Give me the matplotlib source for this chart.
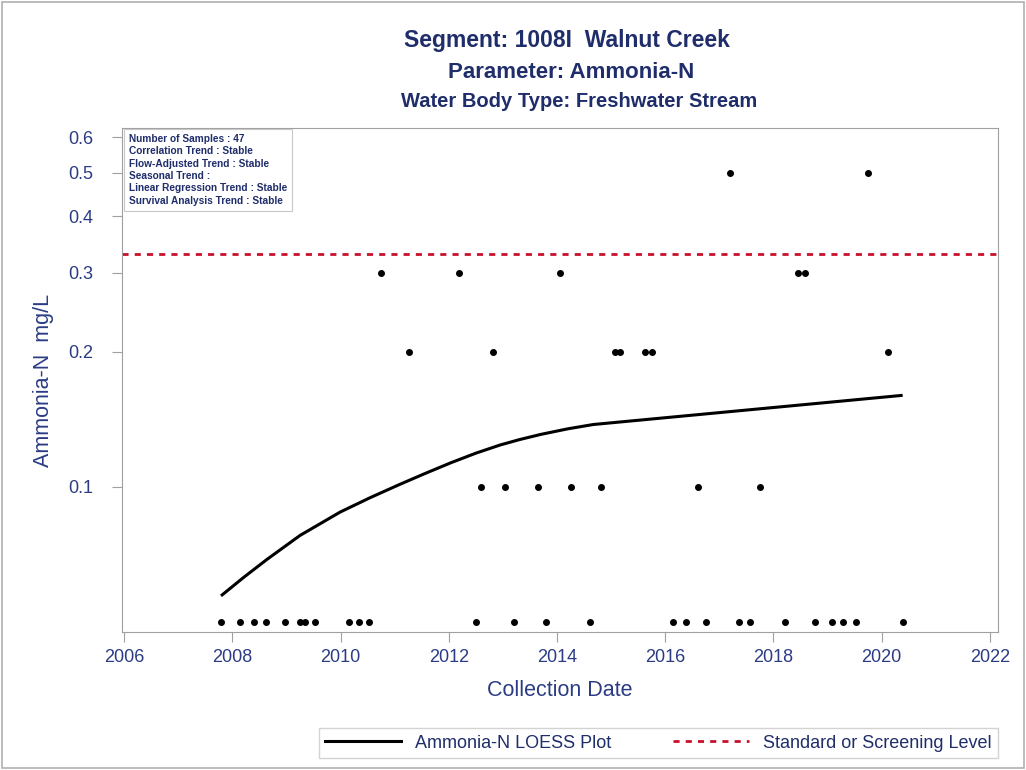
import matplotlib
matplotlib.use("Agg")
import matplotlib.pyplot as plt
from matplotlib.patches import Rectangle
import numpy as np

plt.rcParams['font.family'] = ['Liberation Sans', 'DejaVu Sans']

# sample dates (decimal years) and values, mg/L
dates_005 = [2007.79, 2008.14, 2008.39, 2008.62, 2008.98, 2009.25, 2009.35, 2009.53,
             2010.15, 2010.33, 2010.52, 2012.51, 2013.21, 2013.80, 2014.61, 2016.14,
             2016.38, 2016.76, 2017.36, 2017.57, 2018.21, 2018.76, 2019.08, 2019.28,
             2019.52, 2020.39]
dates_01 = [2012.60, 2013.03, 2013.65, 2014.26, 2014.82, 2016.60, 2017.76]
dates_02 = [2011.26, 2012.82, 2015.08, 2015.17, 2015.62, 2015.75, 2020.12]
dates_03 = [2010.75, 2012.19, 2014.05, 2018.46, 2018.59]
dates_05 = [2017.20, 2019.75]

dates = dates_005 + dates_01 + dates_02 + dates_03 + dates_05
values = ([0.05] * len(dates_005) + [0.1] * len(dates_01) + [0.2] * len(dates_02)
          + [0.3] * len(dates_03) + [0.5] * len(dates_05))

# LOESS curve
loess_x = [2007.81, 2008.20, 2008.64, 2009.25, 2009.99, 2010.55, 2011.10, 2011.55,
           2012.03, 2012.50, 2012.95, 2013.30, 2013.70, 2014.20, 2014.67, 2016.96,
           2020.36]
loess_y = [0.0575, 0.0628, 0.0690, 0.0780, 0.0879, 0.0947, 0.1014, 0.1070,
           0.1131, 0.1189, 0.1240, 0.1274, 0.1309, 0.1347, 0.1377, 0.1462,
           0.1598]

screening_level = 0.33

info_lines = ["Number of Samples : 47",
              "Correlation Trend : Stable",
              "Flow-Adjusted Trend : Stable",
              "Seasonal Trend :",
              "Linear Regression Trend : Stable",
              "Survival Analysis Trend : Stable"]

x_ticks = [2006, 2008, 2010, 2012, 2014, 2016, 2018, 2020, 2022]
y_ticks = [0.1, 0.2, 0.3, 0.4, 0.5, 0.6]

navy = '#1F2D6B'
label_col = '#2B3C85'
grey = '#A0A0A0'

fig = plt.figure(figsize=(10.26, 7.7), dpi=100)
ax = fig.add_axes([0.119, 0.179, 0.8537, 0.655])

ax.plot(loess_x, loess_y, color='black', lw=2.2, label='Ammonia-N LOESS Plot', zorder=3)
ax.axhline(screening_level, color='#C8102E', lw=2, ls=(0, (2.2, 2.2)),
           label='Standard or Screening Level', zorder=2)
ax.plot(dates, values, 'o', color='black', ms=4, zorder=4)

ax.set_yscale('log')
ax.set_ylim(0.0475, 0.63)
ax.set_xlim(2005.96, 2022.15)
ax.set_yticks(y_ticks)
ax.set_yticklabels([f'{t:.1f}' for t in y_ticks])
ax.yaxis.set_minor_locator(matplotlib.ticker.NullLocator())
ax.set_xticks(x_ticks)
ax.set_xticklabels([str(t) for t in x_ticks])

for s in ax.spines.values():
    s.set_color(grey)
ax.tick_params(axis='both', colors=grey, labelcolor=label_col, labelsize=13,
               length=7, direction='out')
ax.tick_params(axis='y', pad=14)
ax.tick_params(axis='x', pad=5)

ax.set_xlabel('Collection Date', fontsize=15.5, color=label_col, labelpad=10)
ax.set_ylabel('Ammonia-N  mg/L', fontsize=15.5, color=label_col, labelpad=10)

ax.text(0.008, 0.988, '\n'.join(info_lines), transform=ax.transAxes, va='top', ha='left',
        fontsize=7.3, fontweight='bold', color=navy, linespacing=1.3,
        bbox=dict(boxstyle='square,pad=0.5', fc='white', ec='#C8C8C8', lw=0.8))

fig.text(0.553, 0.948, 'Segment: 1008I  Walnut Creek', ha='center', va='center',
         fontsize=16.5, fontweight='bold', color=navy)
fig.text(0.557, 0.906, 'Parameter: Ammonia-N', ha='center', va='center',
         fontsize=16, fontweight='bold', color=navy)
fig.text(0.564, 0.868, 'Water Body Type: Freshwater Stream', ha='center', va='center',
         fontsize=14.5, fontweight='bold', color=navy)

leg = fig.legend(loc='lower right', bbox_to_anchor=(0.9727, 0.0156), ncol=2,
                 fontsize=13, frameon=True, fancybox=False, handlelength=4.2,
                 columnspacing=3.4, borderpad=0.35, borderaxespad=0)
leg.get_frame().set_edgecolor('#C8C8C8')
for t in leg.get_texts():
    t.set_color(navy)

fig.patches.append(Rectangle((0.002, 0.002), 0.996, 0.996, transform=fig.transFigure,
                             fill=False, ec='#B0B0B0', lw=1.2))

fig.savefig('out.png', dpi=100)
